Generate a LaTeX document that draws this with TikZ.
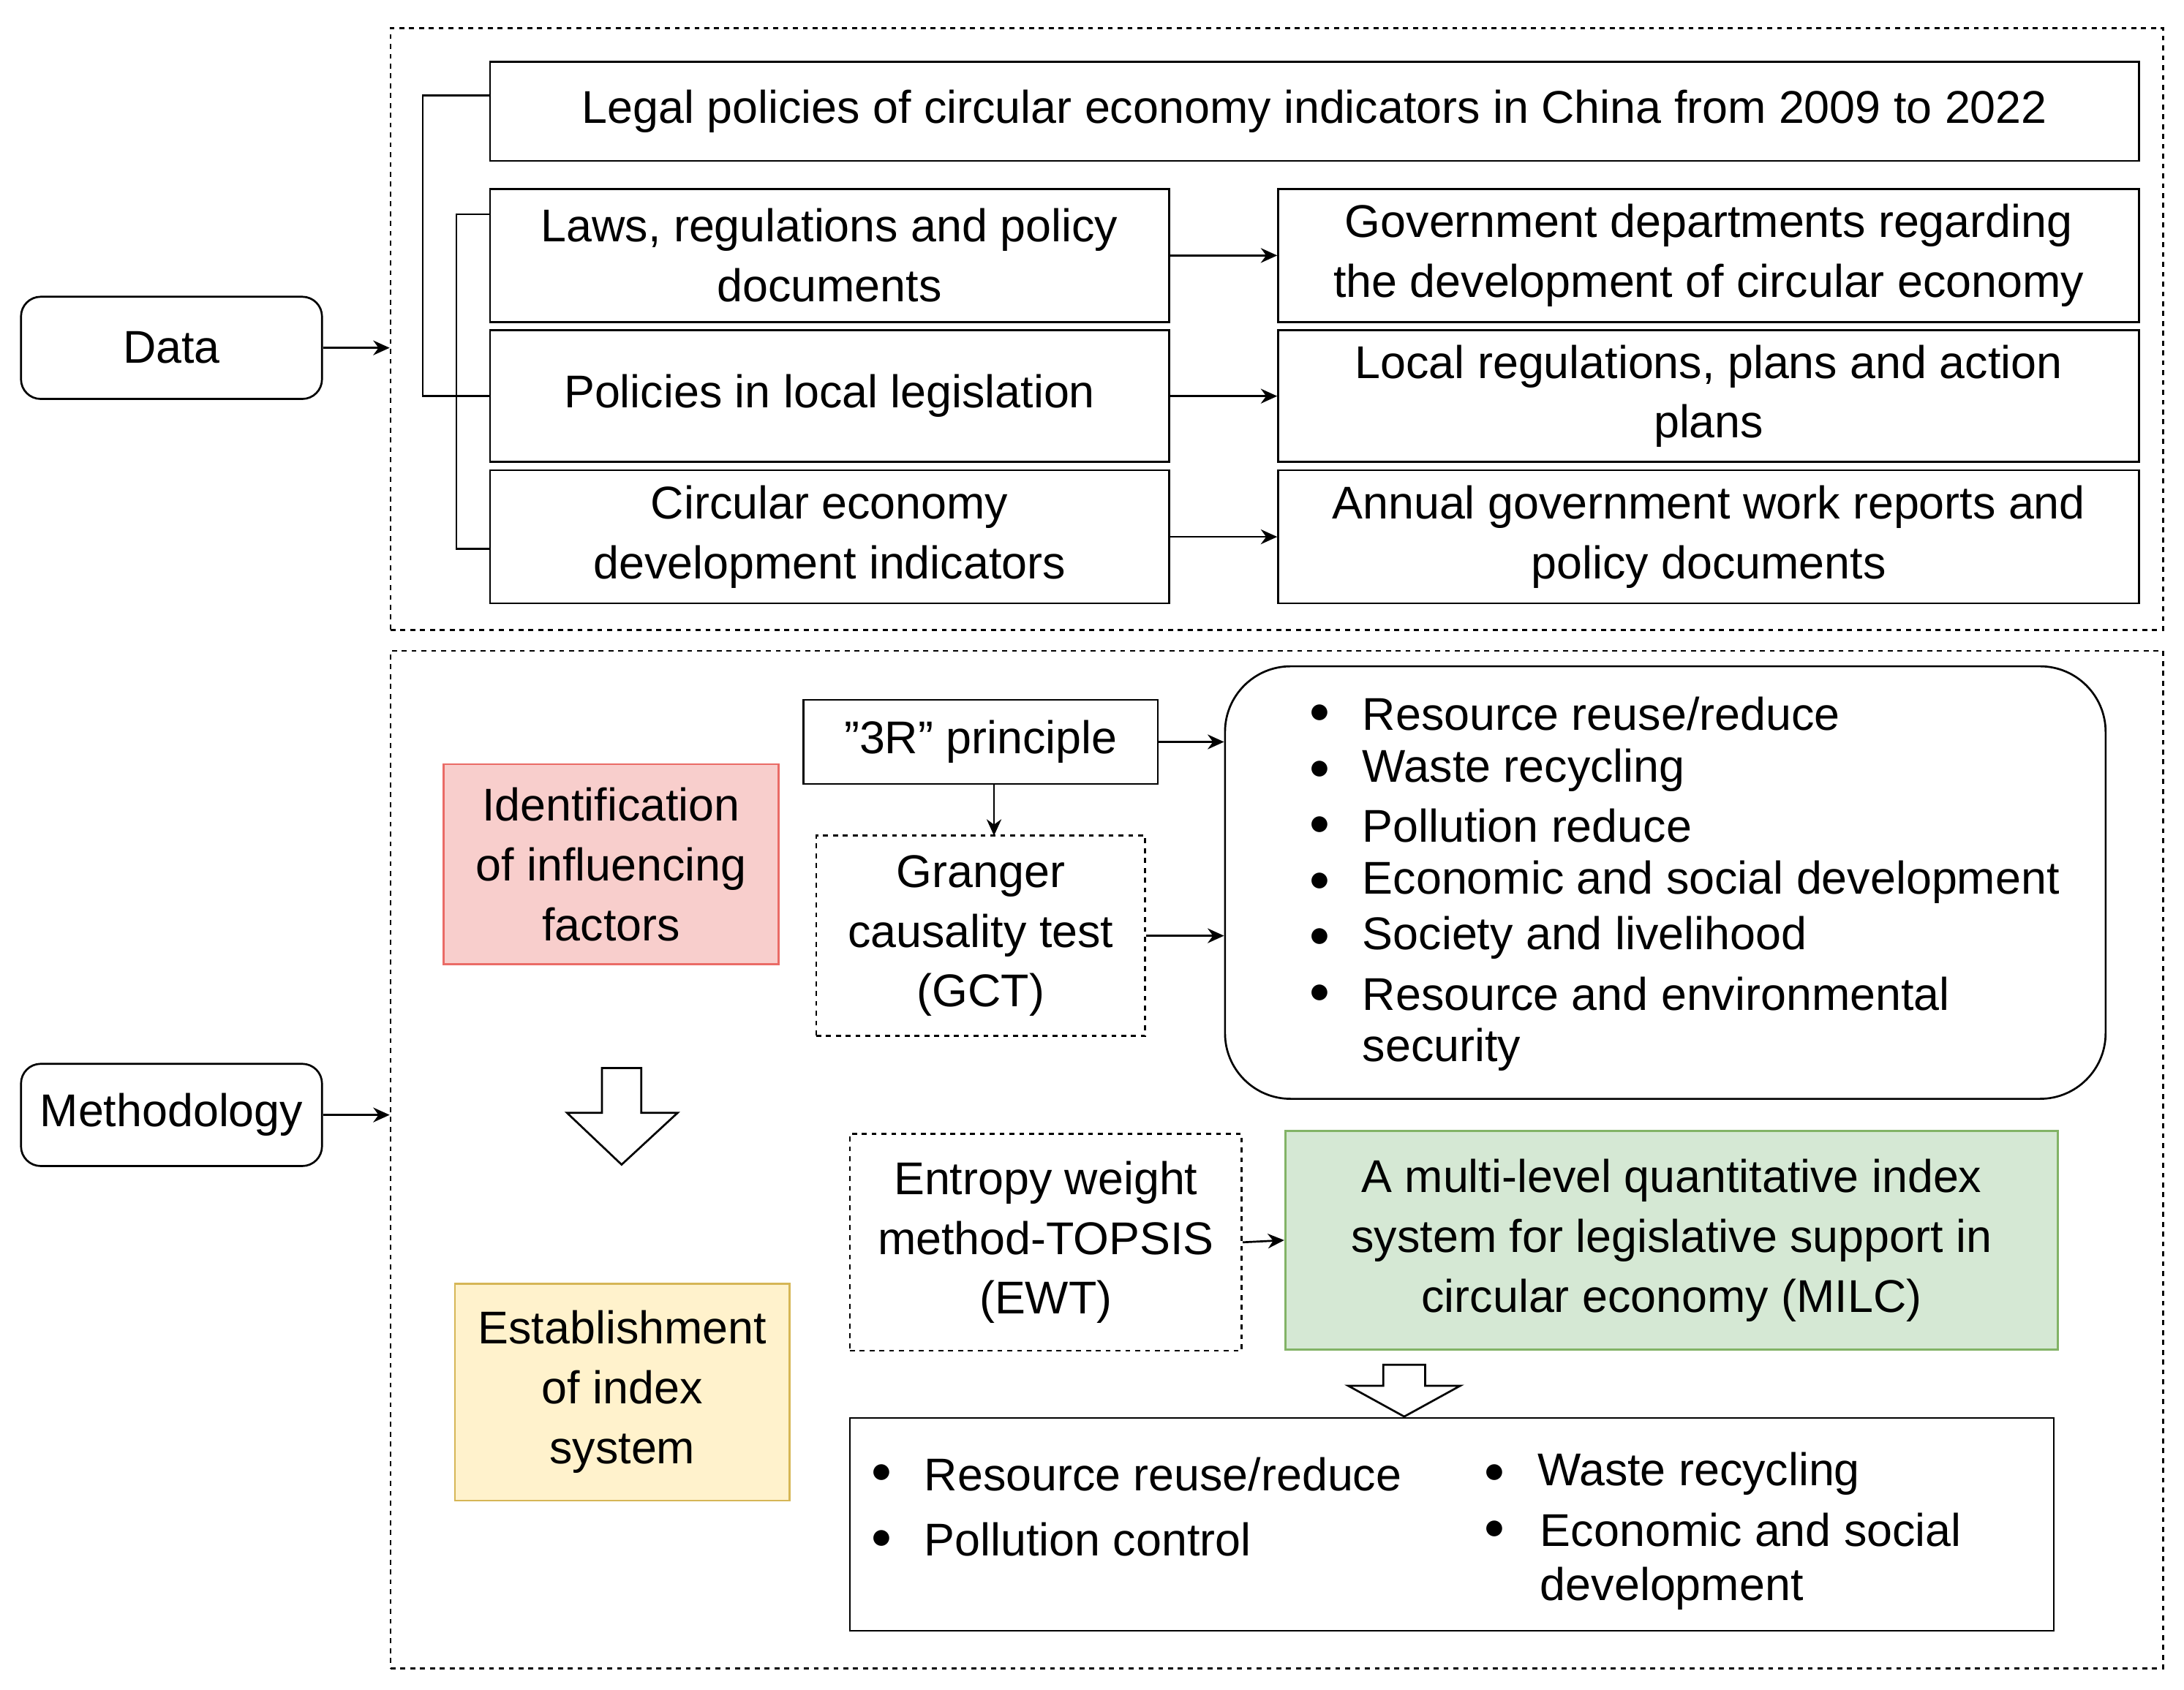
\documentclass[tikz,border=0pt]{standalone}
\usepackage{fontspec}
\setmainfont{Liberation Sans}
\usetikzlibrary{fit,arrows.meta}
\tikzset{
  box/.style={draw,line width=1.2pt,inner sep=0pt,align=center},
  dbox/.style={box,dashed},
  frame/.style={draw,line width=1.2pt,dashed,inner sep=0pt},
  arr/.style={-{Stealth[length=10pt,width=9pt]},line width=1.2pt},
  ln/.style={line width=1.2pt},
  txt/.style={anchor=west,inner sep=0pt},
}
\begin{document}
\begin{tikzpicture}[x=0.3mm,y=-0.3mm,font=\fontsize{28}{36.5}\selectfont]
\useasboundingbox (0,0) rectangle (1560,1207);
\node[frame,fit={(279,20)(1545,450)}] (ftop) {};
\node[frame,fit={(279,465)(1545,1192)}] (fbot) {};
\node[box,rounded corners=12pt,fit={(15,212)(230,285)}] (data) {};
\node at (data.center) {Data};
\node[box,rounded corners=12pt,fit={(15,760)(230,833)}] (meth) {};
\node at (meth.center) {Methodology};
\draw[arr] (data.east) -- (ftop.west|-data.east);
\draw[arr] (meth.east) -- (fbot.west|-meth.east);
\node[box,fit={(350,44)(1528,115)}] (legal) {};
\node at (legal.center) {Legal policies of circular economy indicators in China from 2009 to 2022};
\node[box,fit={(350,135)(835,230)}] (laws) {};
\node at (laws.center) [align=center] {Laws, regulations and policy\\documents};
\node[box,fit={(913,135)(1528,230)}] (gov) {};
\node at (gov.center) [align=center] {Government departments regarding\\the development of circular economy};
\node[box,fit={(350,236)(835,330)}] (pol) {};
\node at (pol.center) {Policies in local legislation};
\node[box,fit={(913,236)(1528,330)}] (loc) {};
\node at (loc.center) [align=center] {Local regulations, plans and action\\plans};
\node[box,fit={(350,336)(835,431)}] (cei) {};
\node at (cei.center) [align=center] {Circular economy\\development indicators};
\node[box,fit={(913,336)(1528,431)}] (ann) {};
\node at (ann.center) [align=center] {Annual government work reports and\\policy documents};
\draw[arr] (laws.east) -- (gov.west);
\draw[arr] (pol.east) -- (loc.west);
\draw[arr] (cei.east) -- (ann.west);
\draw[ln] (legal.west|-0,68) -- (302,68) -- (302,283) -- (pol.west|-0,283);
\draw[ln] (laws.west|-0,153) -- (326,153) -- (326,392) -- (cei.west|-0,392);
\node[box,draw={rgb,255:red,234;green,107;blue,102},fill={rgb,255:red,248;green,206;blue,204},fit={(317,546)(556,689)}] (ident) {};
\node at (ident.center) [align=center] {Identification\\of influencing\\factors};
\node[box,draw={rgb,255:red,214;green,182;blue,86},fill={rgb,255:red,255;green,242;blue,204},fit={(325,917)(564,1072)}] (est) {};
\node at (est.center) [align=center] {Establishment\\of index\\system};
\draw[ln] (430,763) -- (458,763) -- (458,795) -- (484,795) -- (444,832) -- (405,795) -- (430,795) -- cycle;
\node[box,fit={(574,500)(827,560)}] (rr) {};
\node at (rr.center) {"3R" principle};
\node[dbox,fit={(583,597)(818,740)}] (gct) {};
\node at (gct.center) [align=center] {Granger\\causality test\\(GCT)};
\node[box,rounded corners=40pt,fit={(875,476)(1504,785)}] (list) {};
\draw[arr] (rr.east) -- (rr.east-|list.west);
\draw[arr] (gct.east) -- (gct.east-|list.west);
\draw[arr] (710,560) -- (710,597);
\node[txt] (b1) at (935,510) {$\bullet$}; \node[txt] (t1) at (973,510) {Resource reuse/reduce};
\node[txt] (b2) at (935,550) {$\bullet$}; \node[txt] (t2) at (973,550) {Waste recycling};
\node[txt] (b3) at (935,590) {$\bullet$}; \node[txt] (t3) at (973,590) {Pollution reduce};
\node[txt] (b4) at (935,630) {$\bullet$}; \node[txt] (t4) at (973,630) {Economic and social development};
\node[txt] (b5) at (935,670) {$\bullet$}; \node[txt] (t5) at (973,670) {Society and livelihood};
\node[txt] (b6) at (935,710) {$\bullet$}; \node[txt] (t6) at (973,710) {Resource and environmental};
\node[txt] (t7) at (973,750) {security};
\node[dbox,fit={(607,810)(887,965)}] (ewt) {};
\node at (ewt.center) [align=center] {Entropy weight\\method-TOPSIS\\(EWT)};
\node[box,draw={rgb,255:red,130;green,179;blue,102},fill={rgb,255:red,213;green,232;blue,212},fit={(918,808)(1470,964)}] (milc) {};
\node at (milc.center) [align=center] {A multi-level quantitative index\\system for legislative support in\\circular economy (MILC)};
\draw[arr] (ewt.east) -- (milc.west);
\draw[ln] (988,975) -- (1018,975) -- (1018,990) -- (1043,990) -- (1003,1012) -- (963,990) -- (988,990) -- cycle;
\node[box,fit={(607,1013)(1467,1165)}] (res) {};
\node[txt] (c1) at (622,1053) {$\bullet$}; \node[txt] (d1) at (660,1053) {Resource reuse/reduce};
\node[txt] (c2) at (622,1100) {$\bullet$}; \node[txt] (d2) at (660,1100) {Pollution control};
\node[txt] (c3) at (1060,1053) {$\bullet$}; \node[txt] (d3) at (1098,1053) {Waste recycling};
\node[txt] (c4) at (1060,1093) {$\bullet$}; \node[txt] (d4) at (1100,1093) {Economic and social};
\node[txt] (d5) at (1100,1135) {development};
\end{tikzpicture}
\end{document}
